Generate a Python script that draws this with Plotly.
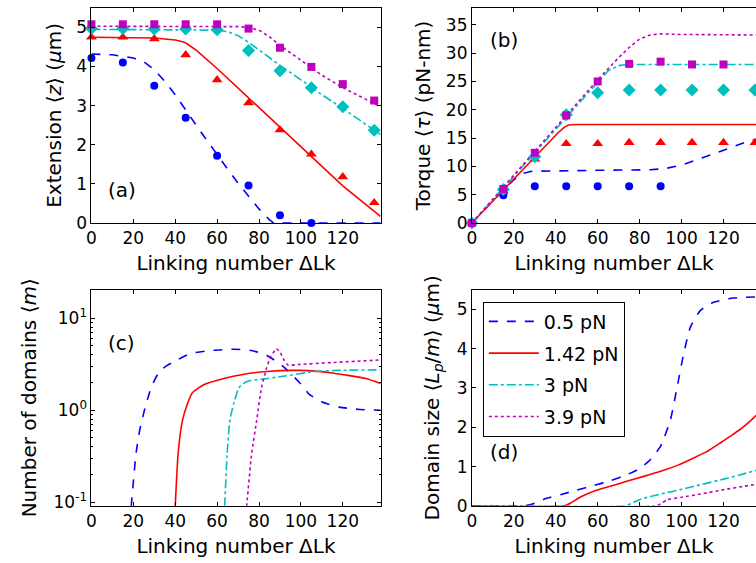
import plotly.graph_objects as go

# ---------------- data ----------------
forces = ["0.5 pN", "1.42 pN", "3 pN", "3.9 pN"]
colors = ["#0000ff", "#ff0000", "#00bfbf", "#bf00bf"]
dashes = ["dash", "solid", "dashdot", "dot"]
symbols = ["circle", "triangle-up", "diamond", "square"]

# (a) extension measurements
lk_pts = [0, 15, 30, 45, 60, 75, 90, 105, 120, 135]
ext_05 = [4.22, 4.10, 3.51, 2.69, 1.72, 0.96, 0.20, 0.0]
ext_142 = [4.75, 4.75, 4.71, 4.30, 3.66, 3.07, 2.38, 1.76, 1.18, 0.52]
ext_3 = [4.97, 4.97, 4.96, 4.96, 4.94, 4.41, 3.89, 3.46, 2.97, 2.37]
ext_39 = [5.08, 5.08, 5.08, 5.08, 5.08, 4.97, 4.48, 3.99, 3.55, 3.13]

# (a) extension theory
ea_x05 = [0, 10, 20, 25, 30, 35, 40, 45, 50, 55, 60, 65, 70, 75, 80, 85, 87, 100, 120, 138]
ea_05 = [4.32, 4.30, 4.22, 4.12, 3.92, 3.62, 3.28, 2.88, 2.50, 2.12, 1.74, 1.38, 1.02, 0.68, 0.36, 0.08, 0.0, 0.0, 0.0, 0.0]
ea_x142 = [0, 30, 40, 44, 46, 50, 60, 80, 100, 120, 138]
ea_142 = [4.75, 4.73, 4.68, 4.63, 4.57, 4.42, 3.95, 2.95, 1.95, 0.95, 0.17]
ea_x3 = [0, 60, 65, 70, 75, 80, 90, 100, 110, 120, 130, 138]
ea_3 = [4.95, 4.93, 4.89, 4.79, 4.62, 4.42, 4.03, 3.66, 3.28, 2.93, 2.57, 2.26]
ea_x39 = [0, 70, 75, 80, 85, 90, 100, 110, 120, 130, 138]
ea_39 = [5.03, 5.02, 5.00, 4.93, 4.76, 4.54, 4.16, 3.78, 3.46, 3.18, 2.97]

# (b) torque measurements
tq_05 = [0.0, 4.9, 6.5, 6.5, 6.5, 6.5, 6.5]
tq_142 = [0.0, 5.6, 11.3, 14.0, 14.0, 14.2, 14.2, 14.2, 14.2, 14.2]
tq_3 = [0.0, 5.9, 11.7, 19.1, 23.0, 23.5, 23.5, 23.5, 23.5, 23.5]
tq_39 = [0.0, 6.0, 12.4, 19.0, 25.0, 28.1, 28.5, 28.0, 28.0]

# (b) torque theory
tb_x05 = [0, 10, 15, 20, 24, 28, 30, 60, 85, 92, 100, 110, 120, 130, 138]
tb_05 = [0, 3.9, 5.8, 7.6, 8.7, 9.1, 9.15, 9.3, 9.4, 9.6, 10.2, 11.5, 12.9, 14.2, 15.0]
tb_x142 = [0, 10, 20, 30, 38, 41, 44, 46, 50, 138]
tb_142 = [0, 3.9, 7.8, 11.7, 14.8, 15.9, 16.9, 17.3, 17.4, 17.4]
tb_x3 = [0, 20, 40, 60, 65, 70, 74, 138]
tb_3 = [0, 8.3, 16.7, 25.0, 26.9, 27.8, 28.0, 28.0]
tb_x39 = [0, 20, 40, 60, 70, 75, 80, 85, 90, 100, 138]
tb_39 = [0, 8.4, 16.9, 25.3, 29.2, 31.0, 32.5, 33.2, 33.4, 33.3, 33.2]

# (c) number of domains
nc_x05 = [19.0, 21.3, 23, 25.3, 28.5, 31.6, 35, 39.5, 47.4, 58.5, 68, 75.7, 83.6, 91.5, 99.4, 104, 110.5, 118.4, 128, 138]
nc_05 = [0.09, 0.34, 0.6, 1.0, 1.76, 2.44, 2.95, 3.38, 4.14, 4.49, 4.6, 4.49, 3.97, 2.99, 1.99, 1.49, 1.22, 1.08, 1.02, 1.0]
nc_x142 = [40, 41.4, 43.5, 45.8, 48.2, 53.8, 63.2, 71, 83.6, 99.4, 115, 131, 138]
nc_142 = [0.09, 0.34, 0.78, 1.17, 1.55, 1.9, 2.21, 2.42, 2.64, 2.71, 2.54, 2.21, 1.95]
nc_x3 = [63.6, 64.8, 66.1, 68, 70.4, 72.5, 75.7, 80, 91.5, 107, 120, 138]
nc_3 = [0.09, 0.34, 0.78, 1.2, 1.76, 1.95, 2.1, 2.15, 2.34, 2.64, 2.72, 2.75]
nc_x39 = [74.1, 76.5, 78.9, 81.2, 83.6, 85.5, 87.6, 88.3, 90, 92, 93.9, 99.4, 115, 138]
nc_39 = [0.09, 0.34, 0.78, 1.76, 2.87, 3.8, 4.49, 4.67, 4.3, 3.5, 3.1, 3.15, 3.3, 3.52]

# (d) domain size
ds_x05 = [0, 25, 30, 36, 42.6, 50, 58.4, 66, 74.2, 80, 85.2, 90, 94.7, 97.9, 101, 104.2, 108.9, 115.2, 124.7, 138]
ds_05 = [0, 0, 0.07, 0.2, 0.29, 0.4, 0.52, 0.64, 0.8, 0.95, 1.18, 1.52, 2.19, 3.03, 3.87, 4.55, 4.97, 5.18, 5.29, 5.32]
ds_x142 = [0, 44, 47.3, 52, 58.4, 66, 74.2, 82, 90, 98, 105.8, 112, 118.4, 124, 128, 132.6, 135.5, 138]
ds_142 = [0, 0, 0.08, 0.23, 0.38, 0.5, 0.63, 0.75, 0.88, 1.03, 1.22, 1.38, 1.6, 1.8, 1.95, 2.15, 2.3, 2.42]
ds_x3 = [0, 73, 76, 80.5, 90, 100, 110, 120, 130, 138]
ds_3 = [0, 0, 0.06, 0.17, 0.3, 0.42, 0.55, 0.68, 0.82, 0.94]
ds_x39 = [0, 88, 90, 93, 100, 110, 120, 130, 138]
ds_39 = [0, 0, 0.05, 0.15, 0.22, 0.31, 0.41, 0.5, 0.57]

# ---------------- figure ----------------
W, H = 756, 563
FONT = "DejaVu Sans"
fig = go.Figure()

def px_x(p):
    return p / W

def px_y(p):
    return 1 - p / H

LX = [px_x(87), px_x(378)]
RX = [px_x(470), 1.0]
TY = [px_y(227), px_y(8)]
BY = [px_y(515), px_y(295)]

ext_pts = [ext_05, ext_142, ext_3, ext_39]
ea_lines = [(ea_x05, ea_05), (ea_x142, ea_142), (ea_x3, ea_3), (ea_x39, ea_39)]
tq_pts = [tq_05, tq_142, tq_3, tq_39]
tb_lines = [(tb_x05, tb_05), (tb_x142, tb_142), (tb_x3, tb_3), (tb_x39, tb_39)]
nc_lines = [(nc_x05, nc_05), (nc_x142, nc_142), (nc_x3, nc_3), (nc_x39, nc_39)]
ds_lines = [(ds_x05, ds_05), (ds_x142, ds_142), (ds_x3, ds_3), (ds_x39, ds_39)]
msizes = [8, 9.5, 10, 8]

for i in range(4):
    ln = dict(color=colors[i], width=1.6, dash=dashes[i])
    lns = dict(color=colors[i], width=1.6, dash=dashes[i], shape="spline", smoothing=0.5)
    # (a)
    fig.add_trace(go.Scatter(x=ea_lines[i][0], y=ea_lines[i][1], mode="lines", line=ln,
                             xaxis="x", yaxis="y", showlegend=False))
    fig.add_trace(go.Scatter(x=lk_pts[:len(ext_pts[i])], y=ext_pts[i], mode="markers",
                             marker=dict(color=colors[i], symbol=symbols[i], size=msizes[i]),
                             xaxis="x", yaxis="y", showlegend=False, cliponaxis=False))
    # (b)
    fig.add_trace(go.Scatter(x=tb_lines[i][0], y=tb_lines[i][1], mode="lines", line=ln,
                             xaxis="x2", yaxis="y2", showlegend=False))
    fig.add_trace(go.Scatter(x=lk_pts[:len(tq_pts[i])], y=tq_pts[i], mode="markers",
                             marker=dict(color=colors[i], symbol=symbols[i], size=msizes[i]),
                             xaxis="x2", yaxis="y2", showlegend=False, cliponaxis=False))
    # (c)
    fig.add_trace(go.Scatter(x=nc_lines[i][0], y=nc_lines[i][1], mode="lines", line=lns,
                             xaxis="x3", yaxis="y3", showlegend=False))
    # (d)
    fig.add_trace(go.Scatter(x=ds_lines[i][0], y=ds_lines[i][1], mode="lines", line=lns,
                             xaxis="x4", yaxis="y4", name=forces[i], showlegend=True,
                             legendgroup="g%d" % i))

tickfont = dict(family=FONT, size=17, color="black")
titlefont = dict(family=FONT, size=20, color="black")

def xax(domain, anchor, rng):
    return dict(domain=domain, anchor=anchor, range=rng, showgrid=False, zeroline=False,
                showline=True, linecolor="black", linewidth=1, mirror="allticks",
                ticks="inside", ticklen=4, tickcolor="black", tickvals=[0, 20, 40, 60, 80, 100, 120],
                tickfont=tickfont,
                title=dict(text="Linking number ΔLk", font=titlefont, standoff=8))

def yax(domain, anchor, rng, title, mirror=True, standoff=9, **kw):
    d = dict(domain=domain, anchor=anchor, range=rng, showgrid=False, zeroline=False,
             showline=True, linecolor="black", linewidth=1,
             mirror="allticks" if mirror else False,
             ticks="inside", ticklen=4, tickcolor="black", tickfont=tickfont,
             title=dict(text=title, font=titlefont, standoff=standoff))
    d.update(kw)
    return d

minor_vals = [v * 10 ** e for e in (-2, -1, 0, 1) for v in range(2, 10)]

fig.update_layout(
    width=W, height=H, margin=dict(l=0, r=0, t=0, b=0),
    paper_bgcolor="white", plot_bgcolor="white",
    font=dict(family=FONT, color="black"),
    xaxis=xax(LX, "y", [0, 138]),
    yaxis=yax(TY, "x", [0, 5.5], "Extension ⟨<i>z</i>⟩ (<i>μ</i>m)", dtick=1, tick0=0),
    xaxis2=xax(RX, "y2", [0, 135.5]),
    yaxis2=yax(TY, "x2", [0, 38], "Torque ⟨<i>τ</i>⟩ (pN-nm)", mirror=False, dtick=5, tick0=0),
    xaxis3=xax(LX, "y3", [0, 138]),
    yaxis3=yax(BY, "x3", [-1.04, 1.31], "Number of domains ⟨<i>m</i>⟩", standoff=11, type="log",
               tickvals=[0.1, 1, 10], ticktext=["10<sup>-1</sup>", "10<sup>0</sup>", "10<sup>1</sup>"],
               minor=dict(tickvals=minor_vals, ticks="inside", ticklen=2, tickcolor="black")),
    xaxis4=xax(RX, "y4", [0, 135.5]),
    yaxis4=yax(BY, "x4", [0, 5.5], "Domain size ⟨<i>L<sub>p</sub></i>/<i>m</i>⟩ (<i>μ</i>m)",
               mirror=False, standoff=11, dtick=1, tick0=0),
    legend=dict(x=px_x(481), y=px_y(307), xanchor="left", yanchor="top",
                bgcolor="white", bordercolor="black", borderwidth=1,
                font=dict(family=FONT, size=19, color="black"),
                traceorder="grouped", tracegroupgap=4, itemwidth=50),
    showlegend=True,
)

labels = [("(a)", 118, 193), ("(b)", 502, 41), ("(c)", 117, 349), ("(d)", 502, 460)]
for txt, x, y in labels:
    fig.add_annotation(text=txt, x=px_x(x), y=px_y(y), xref="paper", yref="paper",
                       showarrow=False, font=dict(family=FONT, size=20, color="black"),
                       xanchor="center", yanchor="middle")

fig.write_html("out.html")
